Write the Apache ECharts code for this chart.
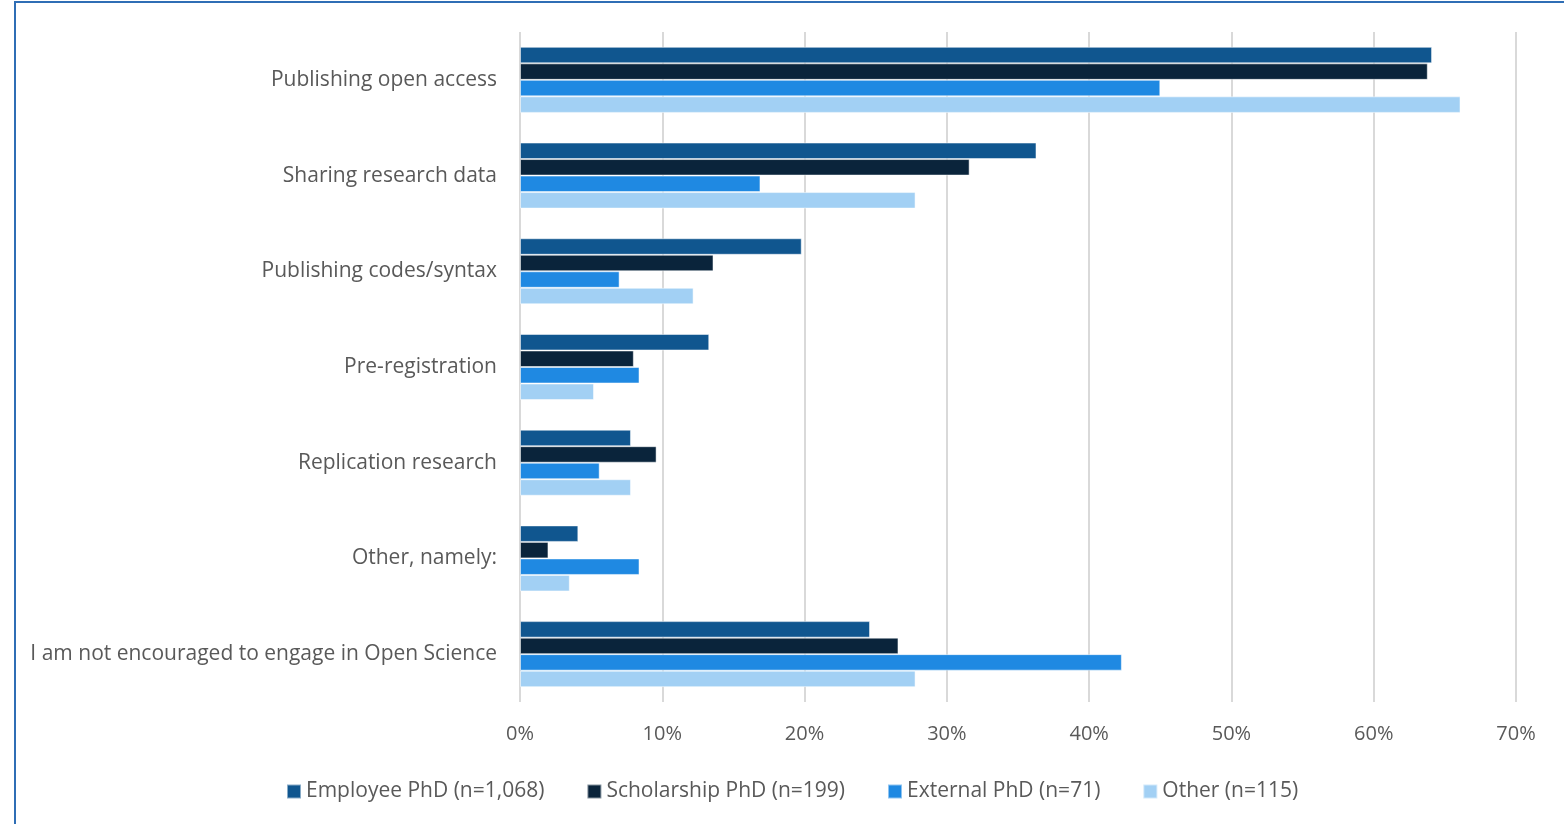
<!DOCTYPE html>
<html>
<head>
<meta charset="utf-8">
<script src="https://cdn.jsdelivr.net/npm/echarts@6/dist/echarts.min.js"></script>
<style>
  html, body { margin: 0; padding: 0; background: #fff; }
  #chart { width: 1564px; height: 824px; }
</style>
</head>
<body>
<div id="chart"></div>
<script>
const categories = [
  "Publishing open access",
  "Sharing research data",
  "Publishing codes/syntax",
  "Pre-registration",
  "Replication research",
  "Other, namely:",
  "I am not encouraged to engage in Open Science"
];
const seriesNames = [
  "Employee PhD (n=1,068)",
  "Scholarship PhD (n=199)",
  "External PhD (n=71)",
  "Other (n=115)"
];
const employee = [64.1, 36.3, 19.8, 13.3, 7.8, 4.1, 24.6];
const scholarship = [63.8, 31.6, 13.6, 8.0, 9.6, 2.0, 26.6];
const external = [45.0, 16.9, 7.0, 8.4, 5.6, 8.4, 42.3];
const other = [66.1, 27.8, 12.2, 5.2, 7.8, 3.5, 27.8];
const colors = ["#10568f", "#0a243b", "#1f89e2", "#a2d0f4"];

const chart = echarts.init(document.getElementById("chart"));
const font = "'Open Sans', sans-serif";
const textColor = "#595959";

const seriesData = [employee, scholarship, external, other];

chart.setOption({
  animation: false,
  color: colors,
  textStyle: { fontFamily: font },
  graphic: [{
    type: "rect",
    shape: { x: 15, y: 2, width: 1700, height: 1000 },
    style: { fill: "none", stroke: "#2f6eb5", lineWidth: 2 },
    silent: true
  }],
  grid: { left: 520, right: 48, top: 32, bottom: 122 },
  legend: {
    left: 281,
    top: 776,
    itemWidth: 14,
    itemHeight: 14,
    itemGap: 42,
    icon: "rect",
    textStyle: { color: textColor, fontSize: 21, fontFamily: font },
    data: seriesNames
  },
  xAxis: {
    type: "value",
    min: 0,
    max: 70,
    interval: 10,
    axisLine: { show: false },
    axisTick: { show: false },
    axisLabel: {
      color: textColor,
      fontSize: 20,
      margin: 22,
      formatter: v => v + "%"
    },
    splitLine: { show: true, lineStyle: { color: "#d9d9d9", width: 2 } }
  },
  yAxis: {
    type: "category",
    inverse: true,
    data: categories,
    axisLine: { show: false },
    axisTick: { show: false },
    axisLabel: { color: textColor, fontSize: 21, margin: 23 }
  },
  series: seriesData.map((d, i) => ({
    name: seriesNames[i],
    type: "bar",
    data: d,
    barGap: "0%",
    barCategoryGap: "31%",
    itemStyle: { borderColor: "rgba(255,255,255,0.5)", borderWidth: 1 }
  }))
});
</script>
</body>
</html>
